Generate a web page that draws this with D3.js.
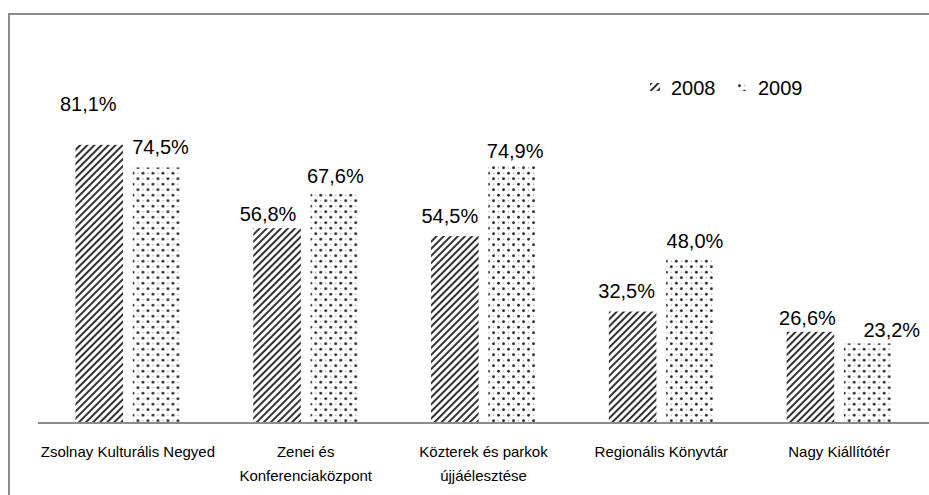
<!DOCTYPE html>
<html>
<head>
<meta charset="utf-8">
<script src="https://cdn.jsdelivr.net/npm/d3@7"></script>
<style>
  body { margin: 0; background: #fff; }
  svg { display: block; }
</style>
</head>
<body>
<div id="chart"></div>
<script>
// data
var categories = [
  ["Zsolnay Kulturális Negyed"],
  ["Zenei és", "Konferenciaközpont"],
  ["Közterek és parkok", "újjáélesztése"],
  ["Regionális Könyvtár"],
  ["Nagy Kiállítótér"]
];
var seriesNames = ["2008", "2009"];
var values2008 = [81.1, 56.8, 54.5, 32.5, 26.6];
var values2009 = [74.5, 67.6, 74.9, 48.0, 23.2];

// label nudges (the original has hand placed data labels)
var labelShift = [
  [[-11, -34], [4, -13]],
  [[-9, -7], [1, -8]],
  [[-5, -13], [3, -8]],
  [[-6, -14], [5, -10]],
  [[-3, -7], [24, -6]]
];

var W = 929, H = 495;
var svg = d3.select("#chart").append("svg")
  .attr("width", W).attr("height", H);

var defs = svg.append("defs");

// diagonal hatch for 2008
var hatch = defs.append("pattern")
  .attr("id", "hatch")
  .attr("patternUnits", "userSpaceOnUse")
  .attr("width", 5).attr("height", 5)
  .attr("patternTransform", "rotate(45)");
hatch.append("rect").attr("width", 5).attr("height", 5).attr("fill", "#fff");
hatch.append("rect").attr("x", 0).attr("width", 2).attr("height", 5).attr("fill", "#333");

// dotted grid for 2009
var dots = defs.append("pattern")
  .attr("id", "dots")
  .attr("patternUnits", "userSpaceOnUse")
  .attr("width", 10).attr("height", 11);
dots.append("rect").attr("width", 10).attr("height", 11).attr("fill", "#fff");
dots.append("circle").attr("cx", 2.5).attr("cy", 2.75).attr("r", 1.4).attr("fill", "#2a2a2a");
dots.append("circle").attr("cx", 7.5).attr("cy", 8.25).attr("r", 1.4).attr("fill", "#2a2a2a");
dots.append("circle").attr("cx", 7.5).attr("cy", 2.75).attr("r", 0.8).attr("fill", "#aaa");
dots.append("circle").attr("cx", 2.5).attr("cy", 8.25).attr("r", 0.8).attr("fill", "#aaa");

var fills = ["url(#hatch)", "url(#dots)"];
var seriesValues = [values2008, values2009];

var x0 = d3.scaleBand()
  .domain(d3.range(categories.length))
  .range([39, 928])
  .paddingInner(0.41)
  .paddingOuter(0.205);

var x1 = d3.scaleBand()
  .domain(d3.range(seriesNames.length))
  .range([0, x0.bandwidth()])
  .paddingInner(0.17);

var y = d3.scaleLinear().domain([0, 100]).range([423, 80]);

// outer frame
svg.append("path")
  .attr("d", "M9,500 V14 H935")
  .attr("fill", "none")
  .attr("stroke", "#8c8c8c")
  .attr("stroke-width", 2);

var groups = svg.selectAll("g.cat")
  .data(categories)
  .join("g")
  .attr("class", "cat")
  .attr("transform", function(d, i) { return "translate(" + x0(i) + ",0)"; });

groups.each(function(c, i) {
  var g = d3.select(this);
  seriesNames.forEach(function(s, j) {
    var v = seriesValues[j][i];
    g.append("rect")
      .attr("x", x1(j))
      .attr("y", y(v))
      .attr("width", x1.bandwidth())
      .attr("height", y(0) - y(v))
      .attr("fill", fills[j]);
    g.append("text")
      .attr("x", x1(j) + x1.bandwidth() / 2 + labelShift[i][j][0])
      .attr("y", y(v) + labelShift[i][j][1])
      .attr("text-anchor", "middle")
      .attr("font-family", "Liberation Sans, Arial, sans-serif")
      .attr("font-size", 20)
      .attr("fill", "#000")
      .text(d3.format(".1f")(v).replace(".", ",") + "%");
  });
});

// x axis
var xAxis = d3.axisBottom(x0).tickSize(0).tickFormat("");
var axisG = svg.append("g")
  .attr("transform", "translate(0," + y(0) + ")")
  .call(xAxis);
axisG.select(".domain").remove();
axisG.append("line")
  .attr("x1", 38).attr("x2", 935)
  .attr("stroke", "#8c8c8c").attr("stroke-width", 2);

axisG.selectAll(".tick").each(function(d) {
  var t = d3.select(this).append("text")
    .attr("fill", "#000")
    .attr("text-anchor", "middle")
    .attr("font-family", "Liberation Sans Narrow, Arial Narrow, Liberation Sans, sans-serif")
    .attr("font-size", 15);
  categories[d].forEach(function(line, k) {
    t.append("tspan")
      .attr("x", 0)
      .attr("y", 34 + k * 24)
      .text(line);
  });
});

// legend
var legend = svg.append("g").attr("transform", "translate(650,83)");
seriesNames.forEach(function(s, j) {
  var lg = legend.append("g").attr("transform", "translate(" + (j * 87) + ",0)");
  lg.append("rect").attr("width", 10).attr("height", 8).attr("fill", fills[j]);
  lg.append("text")
    .attr("x", 21).attr("y", 12)
    .attr("font-family", "Liberation Sans, Arial, sans-serif")
    .attr("font-size", 20)
    .attr("fill", "#000")
    .text(s);
});
</script>
</body>
</html>
